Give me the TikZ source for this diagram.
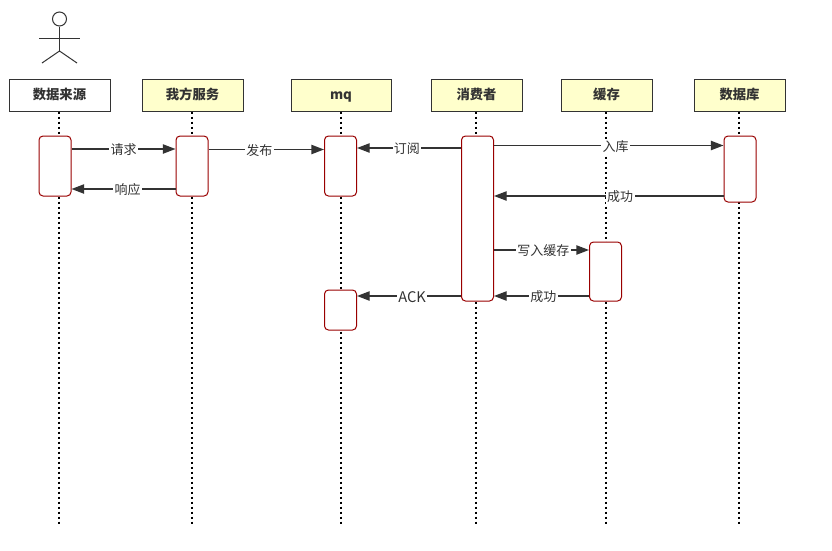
\documentclass[tikz,border=0pt]{standalone}
\usepackage{fontspec}
\setmainfont{Noto Sans CJK SC}
\usetikzlibrary{arrows.meta}
\definecolor{ink}{HTML}{333333}
\definecolor{headyellow}{HTML}{FFFFCC}
\definecolor{actred}{HTML}{990000}
\tikzset{
  x=0.75pt,y=-0.75pt,
  headbox/.style={draw=ink,line width=0.75pt,minimum height=24pt,inner sep=0pt,text height=8.6pt,text depth=1.4pt,font=\fontsize{10pt}{12pt}\selectfont\bfseries,text=ink},
  actbox/.style={draw=actred,fill=white,rounded corners=3pt,line width=0.75pt,minimum width=24pt,inner sep=0pt},
  lifeline/.style={draw=black,line width=1.5pt,dash pattern=on 1.5pt off 2.25pt},
  msg/.style={draw=ink,line width=1pt,-{Triangle[length=9.5pt,width=7pt]}},
  msglabel/.style={fill=white,inner sep=1pt,yshift=-0.7pt,text=ink,font=\fontsize{9.75pt}{12pt}\selectfont},
  figure/.style={draw=ink,line width=0.75pt}
}
\newcommand{\headnode}[6]{\node[headbox,fill=#5,minimum width=#6*0.75pt] (#1) at (#2,#3) {#4};}
\newcommand{\actnode}[4]{\node[actbox,minimum height=#4*0.75pt] (#1) at (#2,#3) {};}
\begin{document}
\begin{tikzpicture}
\useasboundingbox (0,0) rectangle (832,550);
% actor
\node[draw=ink,line width=0.75pt,circle,minimum size=10.5pt,inner sep=0pt] (head) at (59.5,19) {};
\coordinate (hip) at (59.5,51);
\coordinate (armL) at (39,38);
\coordinate (armR) at (80,38);
\coordinate (legL) at (42,63);
\coordinate (legR) at (77,63);
\draw[figure] (head.south) -- (hip);
\draw[figure] (armL) -- (armR);
\draw[figure] (legL) -- (hip) -- (legR);
% headers
\headnode{h1}{59.5}{95}{数据来源}{white}{101}
\headnode{h2}{192.5}{95}{我方服务}{headyellow}{101}
\headnode{h3}{341}{95}{mq}{headyellow}{100}
\headnode{h4}{476.5}{95}{消费者}{headyellow}{91}
\headnode{h5}{606.5}{95}{缓存}{headyellow}{91}
\headnode{h6}{739.5}{95}{数据库}{headyellow}{91}
% lifelines
\foreach \h/\e/\x in {h1/e1/59,h2/e2/192,h3/e3/340.5,h4/e4/476,h5/e5/606,h6/e6/739}{
  \coordinate (\e) at (\x,525);
  \draw[lifeline] (\h.south -| \e) -- (\e);
}
% activations
\actnode{a1}{55}{166}{60}
\actnode{a2}{192}{166}{60}
\actnode{a3}{340.5}{166}{60}
\actnode{a4}{477.5}{218.5}{165}
\actnode{a5}{605.5}{271.5}{59}
\actnode{a6}{740}{169}{66}
\actnode{a7}{340.5}{310}{40}
% y levels
\coordinate (y1) at (0,149);
\coordinate (y2) at (0,189);
\coordinate (y3) at (0,149.5);
\coordinate (y4) at (0,148);
\coordinate (y5) at (0,145.5);
\coordinate (y6) at (0,196);
\coordinate (y7) at (0,250);
\coordinate (y8) at (0,296);
% messages
\draw[msg] (a1.east |- y1) -- node[msglabel,pos=0.5]{请求} (a2.west |- y1);
\draw[msg] (a2.west |- y2) -- node[msglabel,pos=0.46]{响应} (a1.east |- y2);
\draw[msg] (a2.east |- y3) -- node[msglabel,pos=0.44]{发布} (a3.west |- y3);
\draw[msg] (a4.west |- y4) -- node[msglabel,pos=0.52]{订阅} (a3.east |- y4);
\draw[msg] (a4.east |- y5) -- node[msglabel,pos=0.53]{入库} (a6.west |- y5);
\draw[msg] (a6.west |- y6) -- node[msglabel,pos=0.45]{成功} (a4.east |- y6);
\draw[msg] (a4.east |- y7) -- node[msglabel,pos=0.52]{写入缓存} (a5.west |- y7);
\draw[msg] (a5.west |- y8) -- node[msglabel,pos=0.48]{成功} (a4.east |- y8);
\draw[msg] (a4.west |- y8) -- node[msglabel,pos=0.47,font=\fontsize{11pt}{12pt}\selectfont]{ACK} (a7.east |- y8);
\end{tikzpicture}
\end{document}
